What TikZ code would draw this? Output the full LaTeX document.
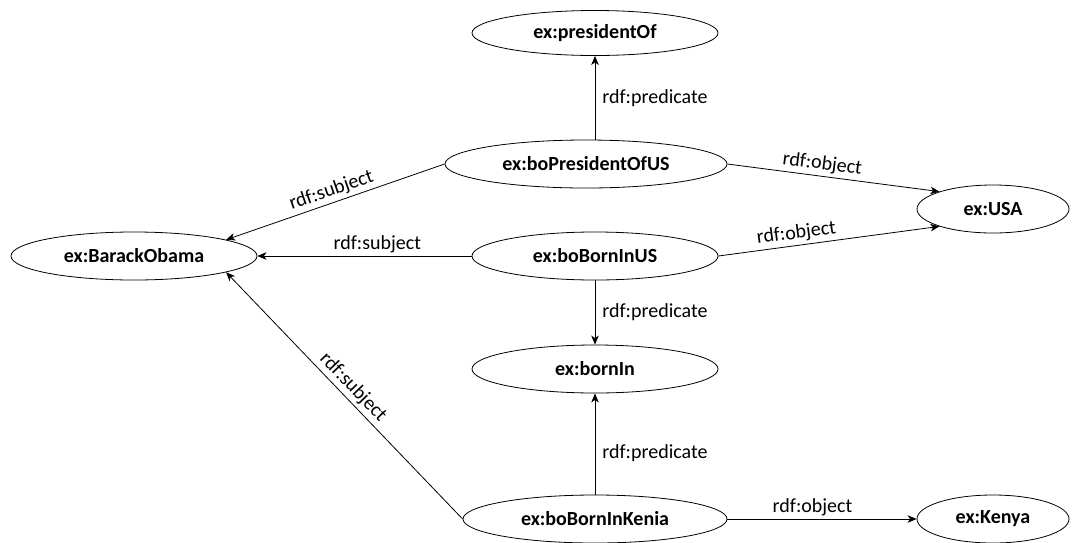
\documentclass[tikz,border=0pt]{standalone}
\usepackage{fontspec}
\setmainfont{Carlito}
\usetikzlibrary{shapes.geometric,arrows.meta}
\begin{document}
\begin{tikzpicture}[x=1pt,y=-1pt,
  ent/.style={ellipse, draw, line width=0.8pt, inner sep=0pt, minimum height=48pt,
    font=\fontsize{20}{24}\selectfont\bfseries},
  rel/.style={-{Stealth[length=9pt,width=7.5pt,inset=2.5pt]}, line width=0.8pt},
  lab/.style={font=\fontsize{20}{24}\selectfont, inner sep=3pt}]
\useasboundingbox (0,0) rectangle (1072,542);
% entities
\node[ent, minimum width=246pt, minimum height=45pt] (pres) at (595,33) {ex:presidentOf};
\node[ent, minimum width=282pt] (bpus) at (586,164) {ex:boPresidentOfUS};
\node[ent, minimum width=246pt] (bbus) at (595,256) {ex:boBornInUS};
\node[ent, minimum width=152pt] (usa) at (993,209) {ex:USA};
\node[ent, minimum width=246pt] (obama) at (134,256) {ex:BarackObama};
\node[ent, minimum width=246pt] (bornin) at (595,369) {ex:bornIn};
\node[ent, minimum width=264pt] (bbk) at (595,519) {ex:boBornInKenia};
\node[ent, minimum width=152pt] (kenya) at (993,519) {ex:Kenya};
% connectors
\draw[rel] (pres.south |- bpus.north) -- node[lab, right, pos=0.5, xshift=4pt] {rdf:predicate} (pres.south);
\draw[rel] (bpus.west) -- node[lab, above, sloped, midway] {rdf:subject} (obama.10.6);
\draw[rel] (bbus.west) -- node[lab, above, pos=0.44] {rdf:subject} (obama.east);
\draw[rel] (bbk.west) -- node[lab, above, sloped, midway] {rdf:subject} (obama.-10.6);
\draw[rel] (bpus.east) -- node[lab, above, sloped, pos=0.44] {rdf:object} (usa.162);
\draw[rel] (bbus.east) -- node[lab, above, sloped, pos=0.36] {rdf:object} (usa.198);
\draw[rel] (bbus.south) -- node[lab, right, pos=0.5, xshift=4pt] {rdf:predicate} (bornin.north);
\draw[rel] (bbk.north) -- node[lab, right, pos=0.41, xshift=4pt] {rdf:predicate} (bornin.south);
\draw[rel] (bbk.east) -- node[lab, above, pos=0.45] {rdf:object} (kenya.west);
\end{tikzpicture}
\end{document}
